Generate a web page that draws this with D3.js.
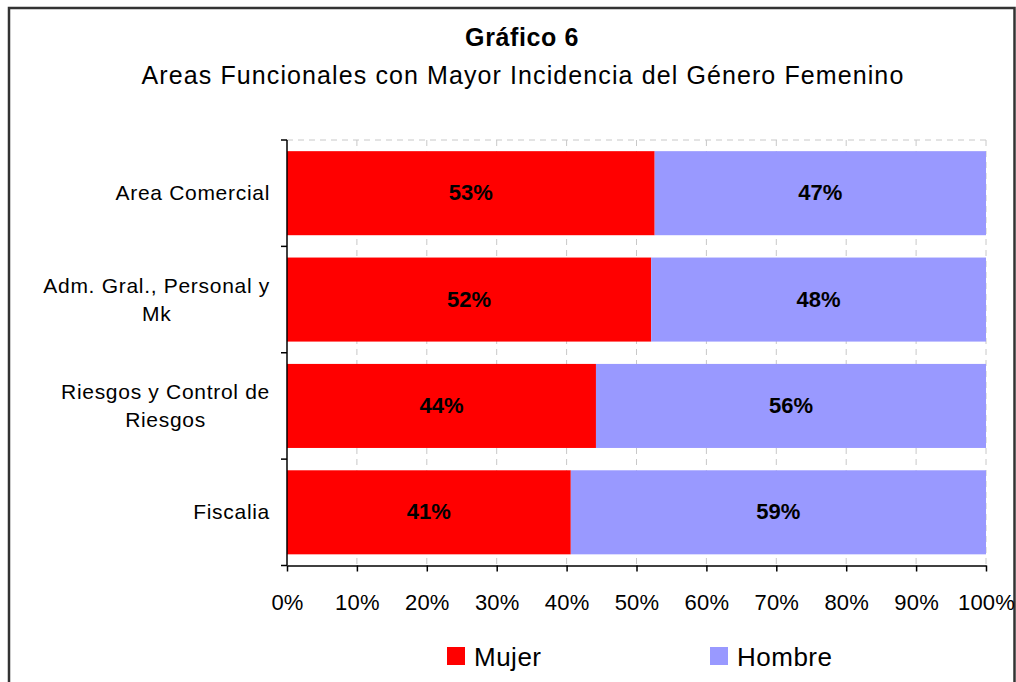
<!DOCTYPE html>
<html>
<head>
<meta charset="utf-8">
<script src="https://cdn.jsdelivr.net/npm/d3@7"></script>
<style>
  body { margin: 0; background: #fff; }
  svg { display: block; font-family: Arial, "Liberation Sans", sans-serif; }
</style>
</head>
<body>
<div id="chart"></div>
<script>
//data
var categories = ['Area Comercial', 'Adm. Gral., Personal y Mk', 'Riesgos y Control de Riesgos', 'Fiscalia'];
var catLines = [['Area Comercial'], ['Adm. Gral., Personal y', 'Mk'], ['Riesgos y Control de', 'Riesgos'], ['Fiscalia']];
var mujer = [52.6, 52.1, 44.2, 40.6];
var hombre = [47.4, 47.9, 55.8, 59.4];
var series = ['Mujer', 'Hombre'];
var xTicks = [0, 10, 20, 30, 40, 50, 60, 70, 80, 90, 100];

var colors = { 'Mujer': '#FF0000', 'Hombre': '#9999FF' };

//sizes
var outerW = 1016,
    outerH = 682,
    margin = { top: 140, right: 30, bottom: 117, left: 287 };

var svg = d3.select('#chart').append('svg')
    .attr('width', outerW)
    .attr('height', outerH);

//frame
svg.append('path')
    .attr('d', 'M9,682 V8 H1014.5 V682')
    .attr('fill', 'none')
    .attr('stroke', '#333')
    .attr('stroke-width', 2.5);

//titles
svg.append('text')
    .attr('x', 522).attr('y', 46)
    .attr('text-anchor', 'middle')
    .style('font-size', '25px')
    .style('font-weight', 'bold')
    .style('letter-spacing', '0.6px')
    .text('Gráfico 6');

svg.append('text')
    .attr('x', 523).attr('y', 84)
    .attr('text-anchor', 'middle')
    .style('font-size', '25px')
    .style('letter-spacing', '1.1px')
    .text('Areas Funcionales con Mayor Incidencia del Género Femenino');

var w = 986 - margin.left,
    h = 565.5 - margin.top;

var g = svg.append('g')
    .attr('transform', 'translate(' + margin.left + ',' + margin.top + ')');

//scales
var xScale = d3.scaleLinear().domain([0, 100]).range([0, w]);
var yScale = d3.scaleBand().domain(categories).range([0, h]).paddingInner(0.21).paddingOuter(0.105);

//grid
g.selectAll('.grid-v')
    .data(xTicks.slice(1))
    .enter().append('line')
    .attr('x1', function(d) { return xScale(d); })
    .attr('x2', function(d) { return xScale(d); })
    .attr('y1', 0).attr('y2', h)
    .attr('stroke', '#c8c8c8')
    .attr('stroke-dasharray', '6,5');

g.append('line')
    .attr('x1', 0).attr('x2', w)
    .attr('y1', 0).attr('y2', 0)
    .attr('stroke', '#c8c8c8')
    .attr('stroke-dasharray', '6,5');

//bars
var stackData = categories.map(function(c, i) {
    return { cat: c, Mujer: mujer[i], Hombre: hombre[i] };
});
var stacked = d3.stack().keys(series)(stackData);

var layers = g.selectAll('.layer')
    .data(stacked)
    .enter().append('g')
    .attr('fill', function(d) { return colors[d.key]; });

layers.selectAll('rect')
    .data(function(d) { return d; })
    .enter().append('rect')
    .attr('x', function(d) { return xScale(d[0]); })
    .attr('width', function(d) { return xScale(d[1]) - xScale(d[0]); })
    .attr('y', function(d) { return yScale(d.data.cat); })
    .attr('height', yScale.bandwidth());

layers.selectAll('.val')
    .data(function(d) { return d; })
    .enter().append('text')
    .attr('x', function(d) { return (xScale(d[0]) + xScale(d[1])) / 2; })
    .attr('y', function(d) { return yScale(d.data.cat) + yScale.bandwidth() / 2 + 7; })
    .attr('text-anchor', 'middle')
    .attr('fill', '#000')
    .style('font-size', '22px')
    .style('font-weight', 'bold')
    .text(function(d) { return Math.round(d[1] - d[0]) + '%'; });

//axes
var xAxis = d3.axisBottom(xScale)
    .tickValues(xTicks)
    .tickSize(6)
    .tickSizeOuter(0)
    .tickFormat(function(d) { return d + '%'; });

var xAxisG = g.append('g')
    .attr('transform', 'translate(0,' + h + ')')
    .call(xAxis);
xAxisG.select('.domain').attr('stroke', '#000').attr('stroke-width', 1.5);
xAxisG.selectAll('.tick line').attr('stroke', '#000').attr('stroke-width', 1.5);
xAxisG.selectAll('.tick text')
    .attr('y', 29)
    .attr('dy', '0.71em')
    .style('font-size', '22px')
    .style('letter-spacing', '0.2px')
    .style('font-family', 'Arial, "Liberation Sans", sans-serif')
    .attr('fill', '#000');

//y axis line and boundary ticks
var step = h / categories.length;
g.append('line')
    .attr('x1', 0).attr('x2', 0)
    .attr('y1', 0).attr('y2', h)
    .attr('stroke', '#000').attr('stroke-width', 1.5);
g.selectAll('.ytick')
    .data(d3.range(categories.length + 1))
    .enter().append('line')
    .attr('x1', -6).attr('x2', 0)
    .attr('y1', function(d) { return d * step; })
    .attr('y2', function(d) { return d * step; })
    .attr('stroke', '#000').attr('stroke-width', 1.5);

//category labels
var catG = g.selectAll('.cat')
    .data(categories)
    .enter().append('text')
    .attr('text-anchor', 'end')
    .style('font-size', '21px')
    .style('letter-spacing', '0.7px')
    .attr('fill', '#000');

catG.each(function(c, i) {
    var lines = catLines[i];
    var cy = yScale(c) + yScale.bandwidth() / 2;
    var lh = 28;
    var y0 = cy - (lines.length - 1) * lh / 2 + 7;
    d3.select(this).selectAll('tspan')
        .data(lines)
        .enter().append('tspan')
        .attr('x', -17)
        .attr('y', function(d, j) { return y0 + j * lh; })
        .attr('text-anchor', function(d, j) { return j > 0 ? 'middle' : 'end'; })
        .text(function(d) { return d; });
});

// center second lines under first line
catG.each(function() {
    var tspans = d3.select(this).selectAll('tspan').nodes();
    if (tspans.length > 1) {
        var first = tspans[0].getComputedTextLength();
        d3.select(tspans[1]).attr('x', -17 - first / 2);
    }
});

//legend
var legend = svg.append('g');
var legX = [447, 710];
series.forEach(function(s, i) {
    legend.append('rect')
        .attr('x', legX[i]).attr('y', 647)
        .attr('width', 18).attr('height', 18)
        .attr('fill', colors[s]);
    legend.append('text')
        .attr('x', legX[i] + 27).attr('y', 666)
        .style('font-size', '26px')
        .style('letter-spacing', '0.5px')
        .attr('fill', '#000')
        .text(s);
});
</script>
</body>
</html>
